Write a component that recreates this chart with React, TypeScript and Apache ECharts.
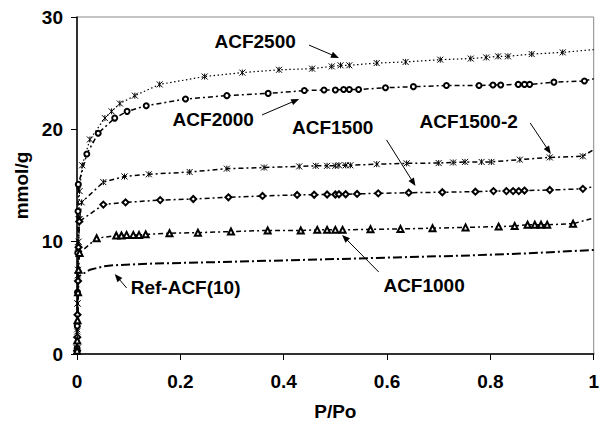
import React, { useEffect, useRef } from "react";
import * as echarts from "echarts";

type P = [number, number];

const xTicks = [0, 0.2, 0.4, 0.6, 0.8, 1];
const yTicks = [0, 10, 20, 30];

const acf2500: P[] = [[0.0002,0.5],[0.0005,2.2],[0.001,4.5],[0.0015,7],[0.002,9.5],[0.003,12],[0.005,14.5],[0.01,16.8],[0.025,19.1],[0.054,21.0],[0.067,21.6],[0.083,22.3],[0.112,23.0],[0.16,24.0],[0.247,24.7],[0.32,25.05],[0.391,25.3],[0.455,25.4],[0.493,25.6],[0.51,25.7],[0.527,25.7],[0.58,25.9],[0.636,26.0],[0.703,26.2],[0.762,26.3],[0.792,26.4],[0.815,26.5],[0.834,26.5],[0.88,26.7],[0.94,26.85],[1.0,27.1]];
const acf2000: P[] = [[0.0002,0.5],[0.0005,2.5],[0.001,5.5],[0.0015,9],[0.002,12.7],[0.0026,15.1],[0.019,17.8],[0.041,19.65],[0.073,21.0],[0.097,21.6],[0.134,22.1],[0.21,22.7],[0.29,23.0],[0.37,23.2],[0.44,23.45],[0.478,23.5],[0.5,23.5],[0.516,23.55],[0.527,23.55],[0.545,23.55],[0.597,23.7],[0.651,23.8],[0.715,23.9],[0.778,23.9],[0.805,23.95],[0.82,23.95],[0.854,24.0],[0.866,24.0],[0.876,24.0],[0.923,24.2],[0.982,24.3],[1.0,24.5]];
const acf1500b: P[] = [[0.0002,0.5],[0.0005,2],[0.001,4.5],[0.002,7.5],[0.003,10],[0.005,12],[0.009,13.5],[0.051,15.3],[0.092,15.8],[0.139,16.0],[0.218,16.2],[0.29,16.5],[0.362,16.6],[0.43,16.7],[0.462,16.75],[0.484,16.75],[0.5,16.75],[0.507,16.8],[0.52,16.8],[0.529,16.8],[0.58,16.9],[0.638,16.97],[0.7,17.0],[0.728,17.05],[0.751,17.1],[0.783,17.1],[0.802,17.1],[0.857,17.3],[0.915,17.5],[0.979,17.6],[1.0,18.2]];
const acf1500: P[] = [[0.0002,0.3],[0.0005,1.5],[0.001,3.5],[0.002,6.5],[0.003,9.5],[0.0045,11.8],[0.051,13.3],[0.094,13.5],[0.161,13.7],[0.225,13.8],[0.293,13.95],[0.359,14.07],[0.426,14.16],[0.459,14.18],[0.484,14.2],[0.5,14.2],[0.507,14.22],[0.52,14.22],[0.542,14.25],[0.583,14.3],[0.642,14.36],[0.707,14.4],[0.771,14.45],[0.806,14.5],[0.831,14.5],[0.844,14.5],[0.855,14.5],[0.866,14.55],[0.915,14.6],[0.979,14.7],[1.0,14.9]];
const acf1000: P[] = [[0.0002,0.3],[0.0005,1.2],[0.001,3],[0.002,5.5],[0.003,7.5],[0.005,9],[0.038,10.3],[0.076,10.55],[0.086,10.55],[0.096,10.6],[0.109,10.6],[0.12,10.6],[0.133,10.65],[0.179,10.75],[0.234,10.8],[0.298,10.9],[0.369,11.0],[0.433,11.0],[0.465,11.05],[0.484,11.05],[0.5,11.05],[0.514,11.05],[0.568,11.1],[0.626,11.13],[0.688,11.2],[0.752,11.27],[0.816,11.34],[0.847,11.4],[0.872,11.5],[0.886,11.5],[0.898,11.5],[0.91,11.5],[0.96,11.6],[1.0,12.1]];
const refAcf: P[] = [[0.0002,0.3],[0.001,2.5],[0.002,5],[0.003,6.9],[0.025,7.5],[0.051,7.8],[0.07,7.9],[0.147,8.05],[0.243,8.15],[0.372,8.3],[0.5,8.45],[0.616,8.6],[0.744,8.75],[0.873,8.96],[1.0,9.26]];

// annotation labels: text anchor and arrow start/end, in data coordinates
const labelNames = ["ACF2500", "ACF2000", "ACF1500", "ACF1500-2", "ACF1000", "Ref-ACF(10)"];
const labelAnchors: P[] = [[0.266, 27.8], [0.185, 20.84], [0.416, 20.12], [0.663, 20.66], [0.593, 6.14], [0.104, 5.88]];
const arrowFrom: P[] = [[0.449, 27.5], [0.358, 21.28], [0.599, 19.06], [0.877, 20.57], [0.584, 7.3], [0.096, 5.88]];
const arrowTo: P[] = [[0.507, 26.36], [0.43, 22.7], [0.655, 14.96], [0.917, 17.81], [0.513, 10.6], [0.073, 7.12]];

const FONT = '"Liberation Sans", Arial, sans-serif';
const STAR = "path://M0,0L10,10M10,0L0,10M5,0L5,10";

function items(d: P[]) {
  return d.map((p, i) => (i === d.length - 1 ? { value: p, symbol: "none" } : { value: p }));
}

function mkSeries(name: string, d: P[], symbol: string, size: number, dash: number[], width: number) {
  return {
    name,
    type: "line",
    data: items(d),
    symbol,
    symbolSize: size,
    showSymbol: symbol !== "none",
    itemStyle: { color: "#000", borderColor: "#000", borderWidth: 1 },
    lineStyle: { color: "#000", width, type: dash },
    emphasis: { disabled: true },
    z: 3,
  };
}

export default function App() {
  const ref = useRef<HTMLDivElement>(null);
  useEffect(() => {
    const chart = echarts.init(ref.current!, null, { renderer: "svg" });
    const axisText = { color: "#000", fontWeight: "bold", fontSize: 19, fontFamily: FONT };
    chart.setOption({
      animation: false,
      grid: { left: 77, right: 6, top: 17, bottom: 74, show: true, borderColor: "#8a8a8a", borderWidth: 1 },
      xAxis: {
        type: "value",
        min: xTicks[0],
        max: xTicks[xTicks.length - 1],
        interval: 0.2,
        name: "P/Po",
        nameLocation: "middle",
        nameGap: 48,
        nameTextStyle: axisText,
        axisLine: { show: true, onZero: false, lineStyle: { color: "#000", width: 1.5 } },
        axisTick: { show: true, inside: false, length: 6, lineStyle: { color: "#000" } },
        axisLabel: { ...axisText, margin: 18, formatter: (v: number) => String(+v.toFixed(1)) },
        splitLine: { show: false },
      },
      yAxis: {
        type: "value",
        min: yTicks[0],
        max: yTicks[yTicks.length - 1],
        interval: 10,
        name: "mmol/g",
        nameLocation: "middle",
        nameGap: 46,
        nameTextStyle: axisText,
        axisLine: { show: true, onZero: false, lineStyle: { color: "#000", width: 1.5 } },
        axisTick: { show: true, inside: false, length: 6, lineStyle: { color: "#000" } },
        axisLabel: { ...axisText, margin: 14 },
        splitLine: { show: false },
      },
      series: [
        mkSeries("ACF2500", acf2500, STAR, 6, [1.5, 2.5], 1.2),
        mkSeries("ACF2000", acf2000, "emptyCircle", 5, [5, 3, 2, 3], 1.5),
        mkSeries("ACF1500-2", acf1500b, STAR, 6, [5, 3, 2, 3], 1.5),
        mkSeries("ACF1500", acf1500, "emptyDiamond", 6, [5, 3, 2, 3], 1.5),
        mkSeries("ACF1000", acf1000, "emptyTriangle", 6, [5, 3, 2, 3], 1.5),
        mkSeries("Ref-ACF(10)", refAcf, "none", 0, [9, 3, 2, 3], 2),
      ],
    });

    const toPx = (p: P) => chart.convertToPixel({ gridIndex: 0 }, p) as number[];
    const graphic: any[] = [];
    labelNames.forEach((name, i) => {
      const a = toPx(labelAnchors[i]);
      graphic.push({
        type: "text",
        x: a[0],
        y: a[1],
        style: { text: name, font: `bold 19px ${FONT}`, fill: "#000", align: "left", verticalAlign: "middle" },
        z: 10,
      });
      const s = toPx(arrowFrom[i]);
      const e = toPx(arrowTo[i]);
      const dx = e[0] - s[0];
      const dy = e[1] - s[1];
      const L = Math.hypot(dx, dy) || 1;
      const ux = dx / L, uy = dy / L;
      const nx = -uy, ny = ux;
      const hl = 8, hw = 3.2;
      graphic.push({
        type: "line",
        shape: { x1: s[0], y1: s[1], x2: e[0] - ux * hl * 0.6, y2: e[1] - uy * hl * 0.6 },
        style: { stroke: "#000", lineWidth: 1 },
        z: 10,
      });
      graphic.push({
        type: "polygon",
        shape: {
          points: [
            [e[0], e[1]],
            [e[0] - ux * hl + nx * hw, e[1] - uy * hl + ny * hw],
            [e[0] - ux * hl - nx * hw, e[1] - uy * hl - ny * hw],
          ],
        },
        style: { fill: "#000" },
        z: 10,
      });
    });
    chart.setOption({ graphic });
    return () => chart.dispose();
  }, []);
  return <div ref={ref} style={{ position: "fixed", left: 0, top: 0, width: 602, height: 428, background: "#fff" }} />;
}
